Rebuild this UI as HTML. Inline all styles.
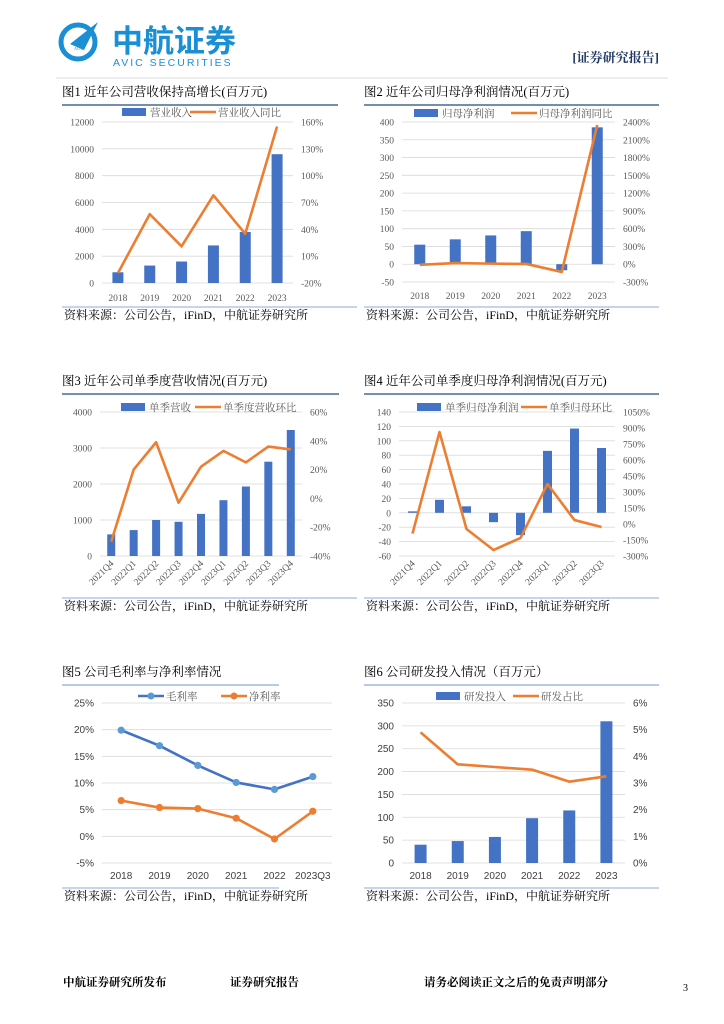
<!DOCTYPE html>
<html><head><meta charset="utf-8">
<style>
body{margin:0;background:#fff;}
#page{position:relative;width:724px;height:1024px;overflow:hidden;font-family:"Liberation Serif","Noto Serif CJK SC",serif;}
svg text{font-family:"Liberation Serif","Noto Serif CJK SC",serif;}
</style></head>
<body>
<div id="page">
<svg id="main" width="724" height="1024" xmlns="http://www.w3.org/2000/svg">
 <g>
  <circle cx="78" cy="42" r="17" fill="none" stroke="#1a8fd6" stroke-width="5"/>
  <path d="M70 44 L98 22 L84 50 Z" fill="#1a8fd6"/>
  <text x="74" y="50" font-size="4" fill="#1a8fd6" font-family="Liberation Sans">AVIC</text>
  <text x="112" y="52" font-size="31" font-weight="bold" fill="#1a8fd6" style="font-family:'Liberation Sans','Noto Sans CJK SC',sans-serif">中航证券</text>
  <text x="113" y="66" font-size="10.5" fill="#1a8fd6" letter-spacing="2" style="font-family:'Liberation Sans',sans-serif">AVIC SECURITIES</text>
  <text x="659" y="62" font-size="13" font-weight="bold" fill="#1f3864" text-anchor="end">[证券研究报告]</text>
  <line x1="56" y1="78" x2="668" y2="78" stroke="#ddd" stroke-width="1"/>
 </g>
 <g id="charts"></g>
 <g>
  <text x="63" y="986" font-size="11.5" font-weight="bold" fill="#000">中航证券研究所发布</text>
  <text x="230" y="986" font-size="11.5" font-weight="bold" fill="#000">证券研究报告</text>
  <text x="424" y="986" font-size="11.5" font-weight="bold" fill="#000">请务必阅读正文之后的免责声明部分</text>
  <text x="683" y="991" font-size="10" fill="#000">3</text>
 </g>
</svg>
</div>
<script>
// Chart 1
const c1Cats=["2018","2019","2020","2021","2022","2023"];
const c1Bars=[800,1300,1600,2800,3800,9600];
const c1Line=[-9,57,21,78,35,155];
const c1LTicks=["0","2000","4000","6000","8000","10000","12000"];
const c1RTicks=["-20%","10%","40%","70%","100%","130%","160%"];
// Chart 2
const c2Cats=["2018","2019","2020","2021","2022","2023"];
const c2Bars=[55,70,81,93,-17,385];
const c2Line=[-10,20,10,5,-130,2350];
const c2LTicks=["-50","0","50","100","150","200","250","300","350","400"];
const c2RTicks=["-300%","0%","300%","600%","900%","1200%","1500%","1800%","2100%","2400%"];
// Chart 3
const c3Cats=["2021Q4","2022Q1","2022Q2","2022Q3","2022Q4","2023Q1","2023Q2","2023Q3","2023Q4"];
const c3Bars=[600,720,1000,950,1170,1550,1930,2620,3500];
const c3Line=[-30,20,39,-3,22,33,25,36,34];
const c3LTicks=["0","1000","2000","3000","4000"];
const c3RTicks=["-40%","-20%","0%","20%","40%","60%"];
// Chart 4
const c4Cats=["2021Q4","2022Q1","2022Q2","2022Q3","2022Q4","2023Q1","2023Q2","2023Q3"];
const c4Bars=[2,18,9,-13,-31,86,117,90];
const c4Line=[-90,862,-47,-244,-131,375,37,-28];
const c4LTicks=["-60","-40","-20","0","20","40","60","80","100","120","140"];
const c4RTicks=["-300%","-150%","0%","150%","300%","450%","600%","750%","900%","1050%"];
// Chart 5
const c5Cats=["2018","2019","2020","2021","2022","2023Q3"];
const c5Gross=[19.9,17.0,13.3,10.1,8.8,11.2];
const c5Net=[6.7,5.4,5.2,3.4,-0.5,4.7];
const c5LTicks=["-5%","0%","5%","10%","15%","20%","25%"];
// Chart 6
const c6Cats=["2018","2019","2020","2021","2022","2023"];
const c6Bars=[40,48,57,98,115,310];
const c6Line=[4.9,3.7,3.6,3.5,3.05,3.25];
const c6LTicks=["0","50","100","150","200","250","300","350"];
const c6RTicks=["0%","1%","2%","3%","4%","5%","6%"];

const NS="http://www.w3.org/2000/svg";
const root=document.getElementById('charts');
function mk(tag,attrs,parent,text){
  const e=document.createElementNS(NS,tag);
  for(const k in attrs)e.setAttribute(k,attrs[k]);
  if(text!==undefined)e.textContent=text;
  (parent||root).appendChild(e);return e;
}
const BLUE="#4472c4",ORANGE="#ed7d31",GRID="#d9d9d9",TICK="#595959";

function chart(o){
  const g=mk('g',{});
  
  
  const t=mk('text',{x:o.px,y:o.ty,'font-size':12.5,fill:'#000'},g,o.title);
  
  
  mk('line',{x1:o.px,x2:o.px+o.pw,y1:o.ty+9,y2:o.ty+9,stroke:o.ruleColor,'stroke-width':1.3},g);
  mk('line',{x1:o.px,x2:o.px+o.sw,y1:o.sy,y2:o.sy,stroke:'#8eaadb','stroke-width':1},g);
  const s=mk('text',{x:o.px+2,y:o.sy+12,'font-size':12,fill:'#000'},g,'资料来源：公司公告，iFinD，中航证券研究所');
  
  
  const n=o.cats.length, step=(o.x1-o.x0)/n;
  const xc=i=>o.x0+step*(i+0.5);
  const yL=v=>o.y0+(v-o.lMin)/(o.lMax-o.lMin)*(o.y1-o.y0);
  const yR=v=>o.y0+(v-o.rMin)/(o.rMax-o.rMin)*(o.y1-o.y0);
  const tf=o.tickFont||"";
  o.lTicks.forEach((lab,i)=>{
    const v=o.lMin+i*(o.lMax-o.lMin)/(o.lTicks.length-1);
    const y=yL(v);
    mk('line',{x1:o.x0,x2:o.x1,y1:y,y2:y,stroke:GRID,'stroke-width':0.8},g);
    const tx=mk('text',{x:o.x0-8,y:y+3.5,'font-size':o.tfs||9.5,fill:o.tcol||TICK,'text-anchor':'end',style:tf},g,lab);
    
    
  });
  if(o.rTicks){
    o.rTicks.forEach((lab,i)=>{
      const v=o.rMin+i*(o.rMax-o.rMin)/(o.rTicks.length-1);
      const tx=mk('text',{x:o.x1+8,y:yR(v)+3.5,'font-size':o.tfs||9.5,fill:o.tcol||TICK,style:tf},g,lab);
      
      
    });
  }
  o.cats.forEach((c,i)=>{
    let tx;
    if(o.rot){
      tx=mk('text',{x:xc(i)+3,y:o.xly,'font-size':9.5,fill:TICK,'text-anchor':'end',transform:`rotate(-45 ${xc(i)+3} ${o.xly})`},g,c);
    }else{
      tx=mk('text',{x:xc(i),y:o.xly,'font-size':o.tfs||9.5,fill:o.tcol||TICK,'text-anchor':'middle',style:tf},g,c);
    }
    
    
  });
  if(o.bars){
    o.bars.forEach((v,i)=>{
      const a=yL(0),b=yL(v);
      const r=mk('rect',{x:xc(i)-o.bw/2,y:Math.min(a,b),width:o.bw,height:Math.abs(a-b),fill:BLUE},g);
      
      
    });
  }
  (o.lines||[]).forEach(L=>{
    const f=L.axis==='r'?yR:yL;
    const pts=L.data.map((v,i)=>xc(i)+','+f(v)).join(' ');
    const p=mk('polyline',{points:pts,fill:'none',stroke:L.color,'stroke-width':2.6,'stroke-linejoin':'round'},g);
    
    
    if(L.markers){
      L.data.forEach((v,i)=>{
        const c=mk('circle',{cx:xc(i),cy:f(v),r:3.6,fill:L.mcolor},g);
        
        
      });
    }
  });
  o.legend.forEach(l=>{
    if(l.type==='bar') mk('rect',{x:l.x,y:o.ly-4,width:24,height:8,fill:BLUE},g);
    else{
      mk('line',{x1:l.x,x2:l.x+26,y1:o.ly,y2:o.ly,stroke:l.color,'stroke-width':2.6},g);
      if(l.marker) mk('circle',{cx:l.x+13,cy:o.ly,r:3.5,fill:l.mcolor},g);
    }
    const tx=mk('text',{x:l.x+28,y:o.ly+4,'font-size':10.5,fill:TICK},g,l.text);
    
    
  });
}

chart({name:'chart-revenue-annual',px:62,pw:276,sw:295,ty:96,ruleColor:'#1f4e79',sy:307,title:'图1  近年公司营收保持高增长(百万元)',
 cats:c1Cats,x0:102,x1:293,y0:283,y1:122,lMin:0,lMax:12000,lTicks:c1LTicks,rMin:-20,rMax:160,rTicks:c1RTicks,
 bars:c1Bars,bw:11,lines:[{data:c1Line,axis:'r',color:ORANGE,name:'revenue-growth-line'}],xly:301,ly:112,
 legend:[{type:'bar',x:122,text:'营业收入'},{type:'line',x:190,color:ORANGE,text:'营业收入同比'}]});
chart({name:'chart-net-profit-annual',px:364,pw:295,sw:295,ty:96,ruleColor:'#1f4e79',sy:307,title:'图2  近年公司归母净利润情况(百万元)',
 cats:c2Cats,x0:402,x1:615,y0:282,y1:122,lMin:-50,lMax:400,lTicks:c2LTicks,rMin:-300,rMax:2400,rTicks:c2RTicks,
 bars:c2Bars,bw:11,lines:[{data:c2Line,axis:'r',color:ORANGE,name:'net-profit-growth-line'}],xly:299,ly:113,
 legend:[{type:'bar',x:414,text:'归母净利润'},{type:'line',x:511,color:ORANGE,text:'归母净利润同比'}]});
chart({name:'chart-quarterly-revenue',px:62,pw:277,sw:295,ty:385,ruleColor:'#1f4e79',sy:598,title:'图3  近年公司单季度营收情况(百万元)',
 cats:c3Cats,x0:100,x1:302,y0:556,y1:412,lMin:0,lMax:4000,lTicks:c3LTicks,rMin:-40,rMax:60,rTicks:c3RTicks,
 bars:c3Bars,bw:8,lines:[{data:c3Line,axis:'r',color:ORANGE,name:'quarterly-revenue-qoq-line'}],xly:564,rot:true,ly:407,
 legend:[{type:'bar',x:121,text:'单季营收'},{type:'line',x:195,color:ORANGE,text:'单季度营收环比'}]});
chart({name:'chart-quarterly-net-profit',px:364,pw:295,sw:295,ty:385,ruleColor:'#1f4e79',sy:598,title:'图4  近年公司单季度归母净利润情况(百万元)',
 cats:c4Cats,x0:399,x1:615,y0:556,y1:412,lMin:-60,lMax:140,lTicks:c4LTicks,rMin:-300,rMax:1050,rTicks:c4RTicks,
 bars:c4Bars,bw:9,lines:[{data:c4Line,axis:'r',color:ORANGE,name:'quarterly-profit-qoq-line'}],xly:564,rot:true,ly:407,
 legend:[{type:'bar',x:417,text:'单季归母净利润'},{type:'line',x:521,color:ORANGE,text:'单季归母环比'}]});
chart({name:'chart-margins',px:62,pw:217,sw:217,ty:676,ruleColor:'#8eaadb',sy:888,title:'图5  公司毛利率与净利率情况',
 cats:c5Cats,x0:102,x1:332,y0:863,y1:703,lMin:-5,lMax:25,lTicks:c5LTicks,tfs:10,tcol:'#404040',tickFont:"font-family:'Liberation Sans','Noto Sans CJK SC',sans-serif",
 lines:[{data:c5Gross,axis:'l',color:BLUE,name:'gross-margin-line',markers:true,mcolor:'#5b9bd5'},{data:c5Net,axis:'l',color:ORANGE,name:'net-margin-line',markers:true,mcolor:ORANGE}],
 xly:879,ly:696,
 legend:[{type:'line',x:138,color:BLUE,marker:true,mcolor:'#5b9bd5',text:'毛利率'},{type:'line',x:221,color:ORANGE,marker:true,mcolor:ORANGE,text:'净利率'}]});
chart({name:'chart-rd-investment',px:364,pw:295,sw:295,ty:676,ruleColor:'#8eaadb',sy:888,title:'图6  公司研发投入情况（百万元）',
 cats:c6Cats,x0:402,x1:625,y0:863,y1:703,lMin:0,lMax:350,lTicks:c6LTicks,rMin:0,rMax:6,rTicks:c6RTicks,tfs:10,tcol:'#404040',tickFont:"font-family:'Liberation Sans','Noto Sans CJK SC',sans-serif",
 bars:c6Bars,bw:12,lines:[{data:c6Line,axis:'r',color:ORANGE,name:'rd-ratio-line'}],xly:879,ly:696,
 legend:[{type:'bar',x:436,text:'研发投入'},{type:'line',x:513,color:ORANGE,text:'研发占比'}]});
</script>
</body></html>
